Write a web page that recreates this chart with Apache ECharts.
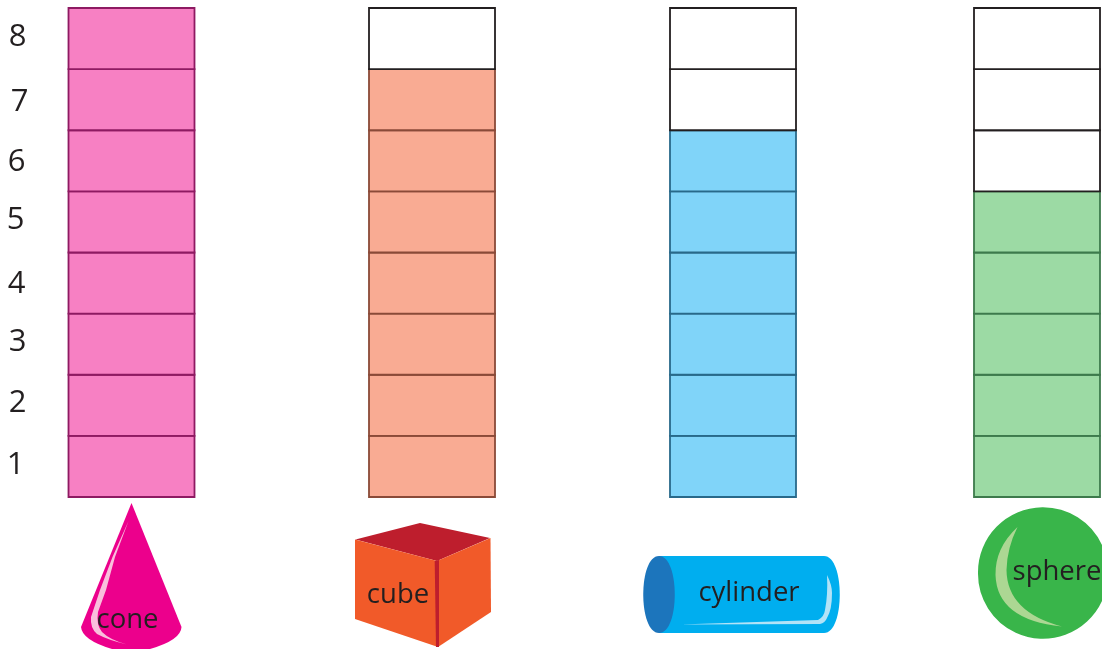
<!DOCTYPE html>
<html><head><meta charset="utf-8">
<style>html,body{margin:0;padding:0;background:#fff}#c{width:1102px;height:649px}</style>
<script src="https://cdn.jsdelivr.net/npm/echarts@6/dist/echarts.min.js"></script>
</head><body><div id="c"></div>
<script>
const categories = ['cone', 'cube', 'cylinder', 'sphere'];
const values = [8, 7, 6, 5];
const levels = ['1', '2', '3', '4', '5', '6', '7', '8'];
const fills = ['#f780c3', '#f9ab93', '#80d4f9', '#9cdaa4'];
const edges = ['#8e1a62', '#8a4a38', '#28698a', '#3d7a4c'];
const gridLefts = [68.5, 369, 670, 974];
// label padding [top, right, bottom] to reproduce the hand-placed digits
const labelPad = {1:[0,4,2],2:[0,2,4],3:[0,2,4],4:[2,3,0],5:[0,4,4],6:[3,3,0],7:[5,0,0],8:[0,2,3]};

const grids = [], xAxes = [], yAxes = [], series = [];
categories.forEach((name, i) => {
  grids.push({left: gridLefts[i], top: 8, width: 126, height: 489});
  xAxes.push({type: 'category', gridIndex: i, data: [name], show: false});
  yAxes.push({
    type: 'category', gridIndex: i, data: levels, show: i === 0,
    axisLine: {show: false}, axisTick: {show: false}, splitLine: {show: false},
    axisLabel: i === 0 ? {
      margin: 40,
      formatter: v => `{d${v}|${v}}`,
      rich: Object.fromEntries(levels.map(v => {
        const [t, r, b] = labelPad[v];
        return ['d' + v, {fontFamily: 'Open Sans', fontSize: 31, color: '#231f20', padding: [t, r, b, 0]}];
      }))
    } : {show: false}
  });
  series.push({
    type: 'custom', xAxisIndex: i, yAxisIndex: i, silent: true, clip: false,
    data: levels.map(l => [name, l]),
    encode: {x: 0, y: 1},
    renderItem(params, api) {
      const idx = params.dataIndex;
      const c = api.coord([0, idx]);
      const w = api.size([1, 0])[0], h = api.size([0, 1])[1];
      const filled = idx + 1 <= values[i];
      return {
        type: 'rect',
        shape: {x: c[0] - w / 2, y: c[1] - h / 2, width: w, height: h},
        style: {fill: filled ? fills[i] : '#ffffff', stroke: filled ? edges[i] : '#231f20', lineWidth: 1.8}
      };
    }
  });
});

const shapes = [
  [
    {path: 'M131.5 503 L181.5 627 Q181 640 150 649 L112 649 Q82 640 81 627 Z', fill: '#ec008c'},
    {path: 'M128.5 521 L112.5 557 L100 590 L91 617 Q90 628 97 634 Q108 640 127 644.5 Q110 640 102 632 Q96 625 98 612 L106 590 L115 557 Z', fill: '#f9bfdc'}
  ],
  [
    {path: 'M355.5 539.5 L420 523 L490 538 L437 561 Z', fill: '#be1e2d'},
    {path: 'M355 539.5 L437 561 L438 647 L355 619 Z', fill: '#f15a29'},
    {path: 'M437 561 L490.5 538 L491 612 L438 647 Z', fill: '#f15a29'},
    {path: 'M434.7 561 L439 560 L439 647 L436 647 Z', fill: '#be1e2d'}
  ],
  [
    {path: 'M659 556 L824 556 C845 556 845 633 824 633 L659 633 Z', fill: '#00aeef'},
    {path: 'M659 556 C638 556 638 633 659 633 C680 633 680 556 659 556 Z', fill: '#1c75bc'},
    {path: 'M827 575 Q832 585 832 593 Q832 610 827 618 Q825 623 820 624 L680 624.5 L818 620 Q824 617 825 610 Q828 595 827 575 Z', fill: '#b3e3f7'}
  ],
  [
    {path: 'M978 573 A65 65 0 0 1 1102 545 L1102 601 A65 65 0 0 1 978 573 Z', fill: '#39b54a'},
    {path: 'M1017.5 527 Q995 548 995.5 575 Q997 620 1062 626.5 Q1007 612 1006.5 570 Q1007 548 1017.5 527 Z', fill: '#acd793'}
  ]
];
const labelPos = [[127.5, 620], [398, 595], [749, 593], [1057, 572.5]];

series.push({
  type: 'custom', coordinateSystem: 'none', silent: true, z: 5,
  data: categories.map((c, i) => [i]),
  renderItem(params) {
    const i = params.dataIndex;
    return {
      type: 'group',
      children: shapes[i].map(s => ({type: 'path', shape: {pathData: s.path}, style: {fill: s.fill}})).concat([{
        type: 'text', x: labelPos[i][0], y: labelPos[i][1],
        style: {text: categories[i], fontFamily: 'Open Sans', fontSize: 27.5, fill: '#231f20', textAlign: 'center', textVerticalAlign: 'middle'}
      }])
    };
  }
});

const chart = echarts.init(document.getElementById('c'), null, {width: 1102, height: 649});
chart.setOption({animation: false, backgroundColor: '#fff', grid: grids, xAxis: xAxes, yAxis: yAxes, series});
</script></body></html>
